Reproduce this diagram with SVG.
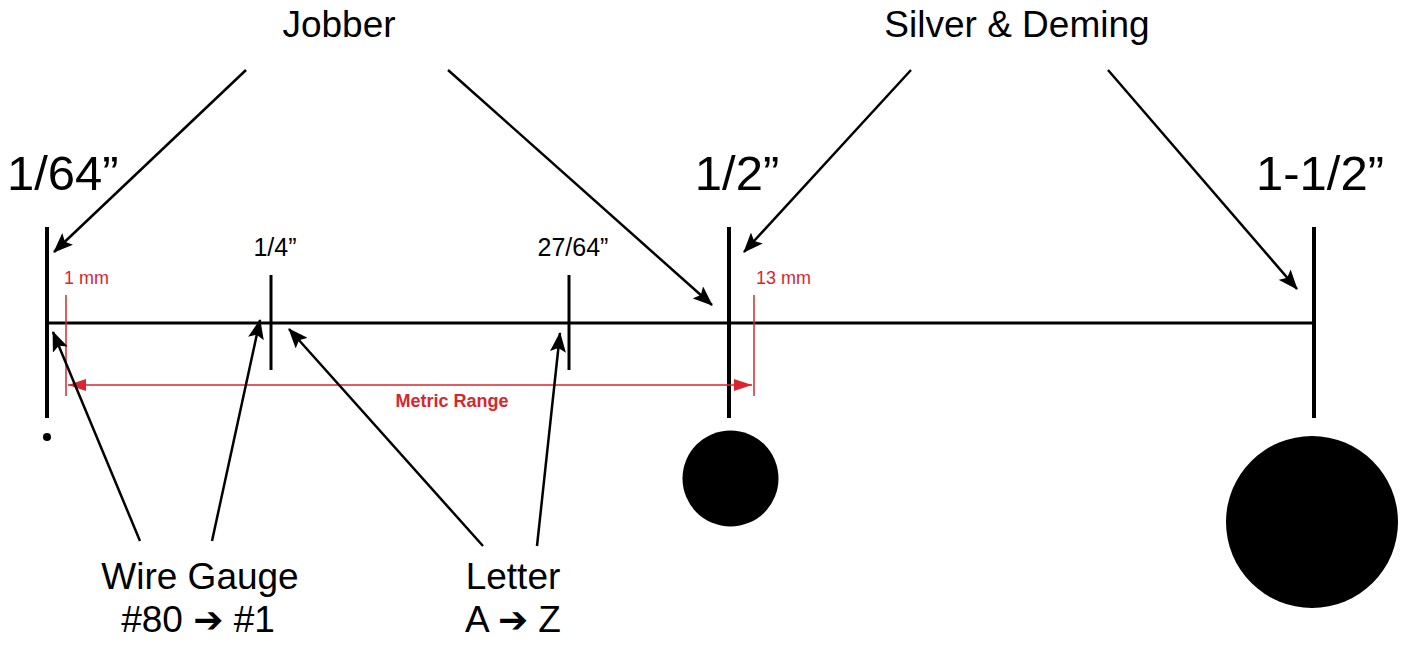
<svg xmlns="http://www.w3.org/2000/svg" width="1405" height="645" viewBox="0 0 1405 645">
<style>
text{font-family:"Liberation Sans",Arial,sans-serif;fill:#000}
.big{font-size:49px}
.mid{font-size:37px}
.sm{font-size:25px}
.red{fill:#d7262f;font-size:18px}
.tick{stroke:#000;stroke-width:4}
.tk{stroke:#000;stroke-width:3}
.arr{stroke:#000;stroke-width:2.5;fill:none;marker-end:url(#ah)}
.rl{stroke:#d7262f;stroke-width:1.5}
.sym{font-family:"DejaVu Sans",sans-serif;font-weight:bold}
</style>
<defs>
<marker id="ah" markerWidth="20" markerHeight="16" viewBox="0 0 20 16" refX="19" refY="8" orient="auto" markerUnits="userSpaceOnUse">
<path d="M0,0 L20,8 L0,16 L4,8 Z" fill="#000"/>
</marker>
<marker id="rah" markerWidth="18" markerHeight="12" viewBox="0 0 18 12" refX="18" refY="6" orient="auto" markerUnits="userSpaceOnUse">
<path d="M0,0 L18,6 L0,12 Z" fill="#d7262f"/>
</marker>
</defs>
<rect width="1405" height="645" fill="#fff"/>

<g id="scale">
<line x1="47" y1="323" x2="1314" y2="323" stroke="#000" stroke-width="3"/>
</g>
<g id="t164">
<line class="tick" x1="47" y1="227" x2="47" y2="418"/>
<circle cx="47" cy="437" r="4" fill="#000"/>
<text class="big" x="7" y="190">1/64”</text>
</g>
<g id="t14">
<line class="tk" x1="271" y1="275" x2="271" y2="370"/>
<text class="sm" x="275" y="256" text-anchor="middle">1/4”</text>
</g>
<g id="t2764">
<line class="tk" x1="569" y1="275" x2="569" y2="370"/>
<text class="sm" x="573" y="256" text-anchor="middle">27/64”</text>
</g>
<g id="t12">
<line class="tick" x1="729" y1="227" x2="729" y2="418"/>
<circle cx="730.5" cy="478.5" r="48" fill="#000"/>
<text class="big" x="737" y="190" text-anchor="middle">1/2”</text>
</g>
<g id="t112">
<line class="tick" x1="1314" y1="227" x2="1314" y2="418"/>
<circle cx="1312" cy="522" r="86" fill="#000"/>
<text class="big" x="1320" y="190" text-anchor="middle">1-1/2”</text>
</g>
<g id="metric">
<line class="rl" x1="66" y1="295" x2="66" y2="396"/>
<line class="rl" x1="754" y1="295" x2="754" y2="396"/>
<line class="rl" x1="68" y1="385" x2="752" y2="385" marker-end="url(#rah)"/>
<path d="M68,385 L86,379 L86,391 Z" fill="#d7262f"/>
<text class="red" x="64" y="284">1 mm</text>
<text class="red" x="756" y="284">13 mm</text>
<text class="red" x="452" y="407" text-anchor="middle" font-weight="bold">Metric Range</text>
</g>
<g id="jobber">
<text class="mid" x="339" y="37" text-anchor="middle">Jobber</text>
</g>
<g id="silver">
<text class="mid" x="1017" y="37" text-anchor="middle">Silver &amp; Deming</text>
</g>
<g id="wire">
<text class="mid" x="200" y="589" text-anchor="middle">Wire Gauge</text>
<text class="mid" x="198" y="632" text-anchor="middle">#80 <tspan class="sym" font-size="36">➔</tspan> #1</text>
</g>
<g id="letter">
<text class="mid" x="513" y="589" text-anchor="middle">Letter</text>
<text class="mid" x="513" y="632" text-anchor="middle">A <tspan class="sym" font-size="36">➔</tspan> Z</text>
</g>
<g id="connectors">
<line class="arr" x1="246" y1="70" x2="54" y2="252"/>
<line class="arr" x1="448" y1="70" x2="712" y2="305"/>
<line class="arr" x1="911" y1="70" x2="744" y2="252"/>
<line class="arr" x1="1108" y1="70" x2="1297" y2="289"/>
<line class="arr" x1="140" y1="541" x2="53" y2="332"/>
<line class="arr" x1="212" y1="541" x2="260" y2="320"/>
<line class="arr" x1="483" y1="546" x2="289" y2="329"/>
<line class="arr" x1="537" y1="546" x2="560" y2="333"/>
</g>
</svg>
